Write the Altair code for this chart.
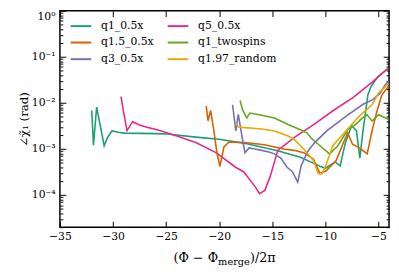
import altair as alt
import pandas as pd

series = ["q1_0.5x", "q1.5_0.5x", "q3_0.5x", "q5_0.5x", "q1_twospins", "q1.97_random"]
colors = ["#1b9e77", "#d95f02", "#7570b3", "#e7298a", "#66a61e", "#e6ab02"]

teal_x = [-32.0, -31.84, -31.54, -31.2, -30.83, -30.5, -30.1, -29.5, -28.9, -26.0, -24.9, -22.2, -20.0, -17.6,
          -14.5, -12.35, -11.28, -10.5, -10.0, -9.52, -9.06, -8.6, -8.14, -7.53, -7.07, -6.75, -6.45, -5.99,
          -5.68, -5.05, -4.3, -4.1]
teal_y = [6.8e-3, 1.2e-3, 8.1e-3, 3.2e-3, 1.17e-3, 1.8e-3, 2.45e-3, 2.3e-3, 2.2e-3, 2.15e-3, 2.1e-3, 1.8e-3,
          1.62e-3, 1.32e-3, 9.1e-4, 6.6e-4, 5.1e-4, 4.2e-4, 3.8e-4, 4.5e-4, 5.2e-4, 4.3e-4, 1.3e-3, 3.2e-3,
          2.5e-3, 6.3e-4, 2.5e-3, 1.5e-2, 2.3e-2, 3.7e-2, 5.1e-2, 5.6e-2]

pink_x = [-29.24, -29.0, -28.68, -28.16, -27.5, -26.8, -25.85, -24.94, -24.0, -22.2, -20.3, -18.46, -17.7,
          -16.6, -16.2, -15.7, -15.2, -14.48, -12.91, -11.07, -9.22, -7.37, -5.53, -4.14]
pink_y = [1.37e-2, 6.3e-3, 2.5e-3, 3.9e-3, 3.3e-3, 2.95e-3, 2.6e-3, 2.24e-3, 1.9e-3, 1.38e-3, 8.3e-4, 4.0e-4,
          3.2e-4, 1.5e-4, 1.07e-4, 1.26e-4, 2.5e-4, 9.3e-4, 1.78e-3, 3.4e-3, 6.9e-3, 1.32e-2, 2.9e-2, 5.5e-2]

orange_x = [-21.22, -21.05, -20.8, -20.5, -20.2, -19.93, -19.55, -19.07, -17.6, -15.73, -13.9, -12.96, -12.04,
            -11.13, -10.5, -9.9, -8.98, -8.36, -7.9, -7.44, -6.83, -6.06, -5.6, -5.14, -4.68, -4.05]
orange_y = [8.5e-3, 4.1e-3, 6.8e-3, 2.5e-3, 7.9e-4, 4.2e-4, 1.1e-3, 1.41e-3, 1.38e-3, 1.23e-3, 1.0e-3, 9.3e-4,
            8.3e-4, 6.0e-4, 2.9e-4, 3.4e-4, 5.6e-4, 1.26e-3, 2.24e-3, 1.26e-3, 1.07e-3, 7.8e-4, 2.45e-3, 6.6e-3,
            1.48e-2, 2.3e-2]

purple_x = [-18.74, -18.43, -18.2, -17.8, -17.57, -17.2, -16.65, -16.0, -15.4, -14.8, -14.2, -13.6, -13.1,
            -12.6, -12.29, -11.68, -11.07, -9.84, -8.0, -6.45, -5.53, -4.84, -4.37, -4.05]
purple_y = [9.1e-3, 2.45e-3, 5.6e-3, 1.6e-3, 8.3e-4, 1.05e-3, 1.0e-3, 9.3e-4, 8.7e-4, 7.8e-4, 6.3e-4, 4.0e-4,
            3.2e-4, 1.9e-4, 4.2e-4, 8.7e-4, 1.32e-3, 2.5e-3, 5.2e-3, 9.3e-3, 1.17e-2, 1.62e-2, 2.45e-2, 2.95e-2]

green_x = [-18.03, -17.8, -17.41, -17.1, -16.0, -14.8, -13.5, -12.35, -11.74, -11.28, -10.5, -9.6, -8.82,
           -7.9, -7.14, -6.5, -6.06, -5.6, -4.99, -4.05]
green_y = [1.12e-2, 7.1e-3, 4.7e-3, 6.0e-3, 5.4e-3, 4.7e-3, 3.4e-3, 2.6e-3, 2.24e-3, 1.66e-3, 1.17e-3, 7.8e-4,
           1.17e-3, 2.6e-3, 3.4e-3, 4.7e-3, 5.5e-3, 4.0e-3, 5.5e-3, 4.4e-3]

yellow_x = [-18.47, -18.2, -17.57, -16.0, -14.8, -13.5, -12.96, -12.04, -11.13, -10.66, -10.3, -9.9, -9.3,
            -8.06, -6.83, -5.6, -5.0, -4.05]
yellow_y = [3.7e-3, 3.0e-3, 2.9e-3, 2.7e-3, 2.45e-3, 1.9e-3, 1.62e-3, 1.0e-3, 5.6e-4, 2.9e-4, 2.9e-4, 4.7e-4,
            1.17e-3, 2.45e-3, 5.1e-3, 9.1e-3, 1.62e-2, 2.6e-2]

x_ticks = [-35, -30, -25, -20, -15, -10, -5]
y_major = [1e-4, 1e-3, 1e-2, 1e-1, 1.0]
y_minor = [2e-5, 3e-5, 4e-5, 5e-5, 6e-5, 7e-5, 8e-5, 9e-5,
           2e-4, 3e-4, 4e-4, 5e-4, 6e-4, 7e-4, 8e-4, 9e-4,
           2e-3, 3e-3, 4e-3, 5e-3, 6e-3, 7e-3, 8e-3, 9e-3,
           2e-2, 3e-2, 4e-2, 5e-2, 6e-2, 7e-2, 8e-2, 9e-2,
           0.2, 0.3, 0.4, 0.5, 0.6, 0.7, 0.8, 0.9]

data = {
    "q1_0.5x": (teal_x, teal_y),
    "q5_0.5x": (pink_x, pink_y),
    "q1.5_0.5x": (orange_x, orange_y),
    "q1_twospins": (green_x, green_y),
    "q3_0.5x": (purple_x, purple_y),
    "q1.97_random": (yellow_x, yellow_y),
}
rows = []
for name, (xs_, ys_) in data.items():
    for a, b in zip(xs_, ys_):
        rows.append({"series": name, "x": a, "y": b})
df = pd.DataFrame(rows)

FONT = "DejaVu Serif"
xscale = alt.Scale(domain=[-35, -4], nice=False, zero=False)
yscale = alt.Scale(type="log", domain=[2e-5, 1], nice=False)

label_expr = ("datum.value > 0.5 ? '10⁰' : datum.value > 0.05 ? '10⁻¹' : datum.value > 0.005 ? '10⁻²' : "
              "datum.value > 0.0005 ? '10⁻³' : '10⁻⁴'")

common = dict(domain=False, grid=False, tickColor="black", tickWidth=1, labelColor="black",
              labelFont=FONT, labelFontSize=11)

lines = alt.Chart(df).mark_line(strokeWidth=1.6, clip=True).encode(
    x=alt.X("x:Q", scale=xscale,
            axis=alt.Axis(values=x_ticks, orient="bottom", offset=-6, tickSize=6, labelPadding=4,
                          labelFlush=False, labelOverlap=False, title=None, **common)),
    y=alt.Y("y:Q", scale=yscale,
            axis=alt.Axis(values=y_major, orient="left", offset=-6, tickSize=6, labelPadding=5,
                          labelFlush=True, labelOverlap=False, labelExpr=label_expr,
                          title="∠χ̃₁ (rad)", titleFont=FONT, titleFontSize=12, titleFontWeight="normal",
                          titleColor="black", titlePadding=1, **common)),
    color=alt.Color("series:N", scale=alt.Scale(domain=series, range=colors),
                    legend=alt.Legend(orient="none", legendX=10, legendY=4, columns=2, title=None,
                                      symbolType="stroke", symbolSize=441, symbolStrokeWidth=2,
                                      labelFont=FONT, labelFontSize=11, labelColor="black",
                                      labelOffset=9, rowPadding=-5, columnPadding=10, padding=0)),
)


def ghost(xaxis, yaxis):
    return alt.Chart(df).mark_point(opacity=0).encode(
        x=alt.X("x:Q", scale=xscale, axis=xaxis),
        y=alt.Y("y:Q", scale=yscale, axis=yaxis),
    )


tick_only = dict(labels=False, title=None, **common)
g1 = ghost(alt.Axis(values=x_ticks, orient="top", offset=-6, tickSize=6, **tick_only),
           alt.Axis(values=y_minor, orient="left", offset=-3, tickSize=3, **tick_only))
g2 = ghost(None, alt.Axis(values=y_major, orient="right", offset=-6, tickSize=6, **tick_only))
g3 = ghost(None, alt.Axis(values=y_minor, orient="right", offset=-3, tickSize=3, **tick_only))

dummy = alt.Data(values=[{}])
t1 = alt.Chart(dummy).mark_text(font=FONT, fontSize=13, align="left", baseline="alphabetic", color="black").encode(
    x=alt.value(116), y=alt.value(257), text=alt.value("(Φ − Φ"))
t2 = alt.Chart(dummy).mark_text(font=FONT, fontSize=10, align="left", baseline="alphabetic", color="black").encode(
    x=alt.value(161.5), y=alt.value(260), text=alt.value("merge"))
t3 = alt.Chart(dummy).mark_text(font=FONT, fontSize=13, align="left", baseline="alphabetic", color="black").encode(
    x=alt.value(194), y=alt.value(257), text=alt.value(")/2π"))

chart = alt.layer(lines, g1, g2, g3, t1, t2, t3).resolve_axis(
    x="independent", y="independent"
).properties(
    width=336, height=221,
    autosize=alt.AutoSizeParams(type="none"),
    padding={"left": 53, "top": 0, "right": 2, "bottom": 43},
).configure_view(stroke="black", strokeWidth=1.5)

chart.save("out.html", embed_options={"renderer": "svg", "actions": False})
